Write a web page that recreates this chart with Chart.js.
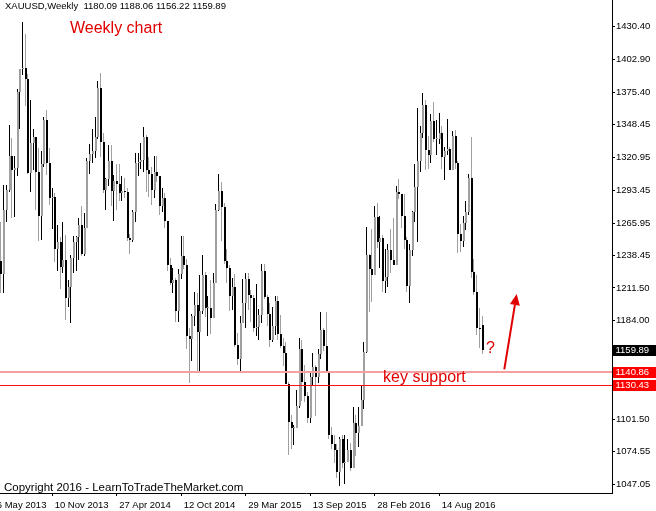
<!DOCTYPE html>
<html><head><meta charset="utf-8">
<script src="https://cdn.jsdelivr.net/npm/chart.js@4.4.1/dist/chart.umd.min.js"></script>
<style>html,body{margin:0;padding:0;background:#fff;}#wrap{width:656px;height:511px;position:relative;}</style>
</head><body><div id="wrap"><canvas id="c" width="656" height="511"></canvas></div>
<script>
// ---- data (weekly XAUUSD, weeks starting 2013-06-16) ----
const firstWeek = '2013-06-16';
const open = [1382,1297,1234,1223,1277,1294,1322,1310,1312,1376,
1395,1396,1387,1308,1333,1338,1309,1272,1315,1352,
1316,1287,1288,1244,1250,1229,1235,1203,1212,1237,
1250,1254,1264,1240,1262,1318,1324,1326,1338,1379,
1334,1294,1303,1318,1293,1301,1299,1291,1293,1292,
1253,1252,1275,1316,1317,1319,1338,1310,1307,1294,
1309,1305,1280,1287,1268,1231,1216,1218,1192,1223,
1238,1231,1171,1169,1188,1197,1175,1192,1222,1195,
1195,1186,1216,1277,1293,1279,1234,1228,1205,1212,
1164,1152,1182,1199,1219,1206,1203,1178,1179,1189,
1226,1204,1190,1168,1180,1201,1173,1163,1157,1131,
1099,1094,1094,1113,1160,1133,1121,1103,1137,1145,
1137,1156,1176,1163,1141,1088,1081,1076,1057,1085,
1065,1066,1076,1061,1098,1090,1096,1118,1158,1239,
1227,1222,1271,1250,1253,1217,1221,1243,1235,1231,
1292,1290,1272,1252,1213,1243,1275,1296,1318,1341,
1365,1327,1323,1351,1336,1336,1341,1321,1326,1328,
1310,1339,1316,1257,1251,1266,1275,1304,1225,1208,
1178,1180.09];
const high = [1393,1306,1267,1298,1298,1348,1337,1322,1378,1395,
1434,1424,1391,1369,1345,1338,1329,1326,1355,1361,
1329,1295,1291,1264,1254,1267,1256,1218,1239,1255,
1255,1270,1280,1274,1320,1332,1345,1355,1385,1392,
1341,1304,1331,1331,1306,1315,1315,1305,1304,1295,
1257,1277,1325,1325,1333,1346,1340,1321,1313,1322,
1322,1305,1295,1291,1268,1237,1228,1220,1227,1255,
1255,1236,1178,1190,1208,1207,1222,1239,1225,1205,
1218,1224,1282,1307,1300,1283,1244,1231,1220,1223,
1174,1188,1219,1224,1224,1210,1206,1215,1194,1232,
1232,1206,1199,1196,1205,1205,1189,1170,1166,1133,
1105,1097,1126,1170,1168,1147,1124,1142,1157,1147,
1160,1191,1178,1191,1142,1095,1088,1081,1087,1088,
1088,1085,1082,1112,1105,1112,1129,1166,1263,1240,
1261,1280,1283,1272,1256,1244,1248,1261,1270,1297,
1303,1290,1290,1254,1248,1276,1315,1362,1347,1375,
1369,1339,1357,1367,1352,1358,1347,1330,1353,1330,
1343,1344,1318,1265,1272,1284,1307,1338,1236,1222,
1195,1188.06];
const low = [1269,1180,1207,1207,1267,1292,1270,1271,1305,1345,
1390,1364,1307,1292,1310,1277,1251,1252,1313,1306,
1281,1261,1233,1226,1211,1224,1185,1196,1182,1224,
1226,1235,1238,1238,1262,1307,1316,1320,1336,1321,
1291,1277,1297,1280,1268,1277,1284,1284,1287,1251,
1240,1250,1267,1305,1311,1309,1292,1288,1281,1287,
1300,1273,1275,1262,1226,1214,1207,1183,1183,1219,
1227,1160,1132,1150,1180,1142,1142,1190,1187,1171,
1173,1186,1216,1276,1251,1232,1216,1192,1193,1162,
1147,1142,1182,1178,1193,1183,1175,1171,1168,1182,
1202,1180,1162,1166,1172,1168,1161,1146,1131,1072,
1077,1080,1094,1111,1117,1116,1098,1098,1130,1104,
1132,1152,1159,1140,1085,1077,1065,1052,1046,1061,
1047,1066,1058,1061,1071,1078,1096,1110,1157,1191,
1200,1222,1245,1228,1208,1207,1212,1224,1231,1231,
1286,1262,1244,1208,1199,1238,1267,1250,1309,1337,
1310,1311,1316,1334,1323,1332,1311,1302,1323,1310,
1310,1311,1241,1242,1246,1260,1273,1220,1206,1172,
1161,1156.22];
const close = [1297,1234,1223,1277,1294,1322,1310,1312,1376,1395,
1396,1387,1308,1333,1338,1309,1272,1315,1352,1316,
1287,1288,1244,1250,1229,1235,1203,1212,1237,1250,
1254,1264,1240,1262,1318,1324,1326,1338,1379,1334,
1294,1303,1318,1293,1301,1299,1291,1293,1292,1253,
1252,1275,1316,1317,1319,1338,1310,1307,1294,1309,
1305,1280,1287,1268,1231,1216,1218,1192,1223,1238,
1231,1171,1169,1188,1197,1175,1192,1222,1195,1195,
1186,1216,1277,1293,1279,1234,1228,1205,1212,1164,
1152,1182,1199,1219,1206,1203,1178,1179,1189,1226,
1204,1190,1168,1180,1201,1173,1163,1157,1131,1099,
1094,1094,1113,1160,1133,1121,1103,1137,1145,1137,
1156,1176,1163,1141,1088,1081,1076,1057,1085,1065,
1066,1076,1061,1098,1090,1096,1118,1158,1239,1227,
1222,1271,1250,1253,1217,1221,1243,1235,1231,1292,
1290,1272,1252,1213,1243,1275,1296,1318,1341,1365,
1327,1323,1351,1336,1336,1341,1321,1326,1328,1310,
1339,1316,1257,1251,1266,1275,1304,1225,1208,1178,
1177,1159.89];
const yTickValues = [1430.40,1402.90,1375.40,1348.45,1320.95,1293.45,1265.95,1238.45,1211.50,1184.00,1156.50,1129.00,1101.50,1074.55,1047.05];
const xTickLabels = ['26 May 2013','10 Nov 2013','27 Apr 2014','12 Oct 2014','29 Mar 2015','13 Sep 2015','28 Feb 2016','14 Aug 2016'];
const xTickDates  = ['2013-05-26','2013-11-10','2014-04-27','2014-10-12','2015-03-29','2015-09-13','2016-02-28','2016-08-14'];
const levelLines = [1140.86, 1130.43];
const symbolTitle = 'XAUUSD,Weekly';

// ---- helpers ----
const WEEK = 7*86400000;
const weekIndex = d => Math.round((Date.parse(d) - Date.parse(firstWeek)) / WEEK);
const weeks = open.map((_, i) => new Date(Date.parse(firstWeek) + i*WEEK).toISOString().slice(0,10));
const tickIdx = xTickDates.map(weekIndex);
const lastI = open.length - 1;
const GRAY = '#a0a0a0', BLACK = '#000000', RED = '#e00000';
const isUp = open.map((o, i) => close[i] >= o);
const bodyCols = isUp.map(u => u ? GRAY : BLACK);
const wickCols = isUp.map(u => u ? BLACK : GRAY);

const wickData = weeks.map((w, i) => ({x: i, y: [low[i], high[i]]}));
const bodyData = weeks.map((w, i) => ({x: i, y: [open[i], close[i]]}));

// view window (week units)
const pxPerWeek = 2.6875;
const xMin = 1.65, xMax = xMin + 612 / pxPerWeek;

const FONT = '"Liberation Sans", Arial, sans-serif';

// snap bar elements to whole pixels (crisp MT4-like candles)
const snap = {
  id: 'snap',
  afterDatasetsUpdate(chart) {
    chart.data.datasets.forEach((ds, di) => {
      const meta = chart.getDatasetMeta(di);
      meta.data.forEach(el => {
        const fx = Math.floor(el.x);
        el.x = di === 0 ? fx + 0.5 : fx + 1;
        const y0 = Math.round(el.y), b0 = Math.round(el.base);
        el.y = y0; el.base = (b0 === y0) ? y0 + 1 : b0;
      });
    });
  }
};

const overlay = {
  id: 'overlay',
  afterDatasetsDraw(chart) {
    const {ctx, chartArea: a, scales: {y}} = chart;
    ctx.save();
    const p1 = Math.round(y.getPixelForValue(levelLines[0]));
    ctx.fillStyle = '#f5a0a0';
    ctx.fillRect(a.left, p1 - 1, a.right - a.left, 2);
    const p2 = Math.round(y.getPixelForValue(levelLines[1]));
    ctx.fillStyle = '#ff1010';
    ctx.fillRect(a.left, p2, a.right - a.left, 1);
    ctx.restore();
  },
  afterDraw(chart) {
    const {ctx, chartArea: a, scales: {x, y}} = chart;
    ctx.save();
    // out-of-range first date label
    ctx.font = '9.5px ' + FONT;
    ctx.fillStyle = '#000';
    ctx.textBaseline = 'middle';
    ctx.textAlign = 'left';
    ctx.fillText(xTickLabels[0], x.getPixelForValue(tickIdx[0]) + 4, 505);
    // price boxes
    const box = (v, bg) => {
      const py = Math.round(y.getPixelForValue(v));
      ctx.fillStyle = bg;
      ctx.fillRect(a.right + 1, py - 5, 43, 11);
      ctx.fillStyle = '#fff';
      ctx.font = '9.5px ' + FONT;
      ctx.textBaseline = 'middle';
      ctx.fillText(v.toFixed(2), a.right + 3.5, py + 0.5);
    };
    box(levelLines[0], '#ff0000');
    box(levelLines[1], '#ff0000');
    box(close[lastI], '#000000');
    // header
    ctx.fillStyle = '#000';
    ctx.font = '9.5px ' + FONT;
    ctx.textBaseline = 'middle';
    ctx.fillText(symbolTitle + '  ' + [open[lastI], high[lastI], low[lastI], close[lastI]].map(v => v.toFixed(2)).join(' '), 5, 6.5);
    // copyright
    ctx.font = '11.5px ' + FONT;
    ctx.textBaseline = 'alphabetic';
    ctx.fillText('Copyright 2016 - LearnToTradeTheMarket.com', 4, 490.5);
    // annotations
    ctx.fillStyle = RED;
    ctx.font = '16px ' + FONT;
    ctx.fillText('Weekly chart', 70, 33.3);
    ctx.fillText('key support', x.getPixelForValue(144.2), y.getPixelForValue(1133.0));
    ctx.fillText('?', x.getPixelForValue(182.5), y.getPixelForValue(1157.3));
    // arrow
    const x0 = x.getPixelForValue(189.3), y0 = y.getPixelForValue(1143.4);
    const x1 = x.getPixelForValue(193.9), y1 = y.getPixelForValue(1206.5);
    const ang = Math.atan2(y1 - y0, x1 - x0);
    const hl = 11, hw = 5;
    const bx = x1 - hl * Math.cos(ang), by = y1 - hl * Math.sin(ang);
    ctx.strokeStyle = RED; ctx.lineWidth = 2;
    ctx.beginPath(); ctx.moveTo(x0, y0); ctx.lineTo(bx, by); ctx.stroke();
    ctx.beginPath();
    ctx.moveTo(x1, y1);
    ctx.lineTo(bx + hw * Math.sin(ang), by - hw * Math.cos(ang));
    ctx.lineTo(bx - hw * Math.sin(ang), by + hw * Math.cos(ang));
    ctx.closePath(); ctx.fill();
    ctx.restore();
  }
};

new Chart(document.getElementById('c'), {
  type: 'bar',
  data: {
    datasets: [
      {label: 'wick', data: wickData, backgroundColor: wickCols, barThickness: 1, grouped: false, inflateAmount: 0, borderWidth: 0, order: 2},
      {label: 'body', data: bodyData, backgroundColor: bodyCols, barThickness: 2, grouped: false, inflateAmount: 0, borderWidth: 0, minBarLength: 1, order: 1}
    ]
  },
  options: {
    responsive: false, animation: false, devicePixelRatio: 1,
    layout: {padding: 0},
    plugins: {legend: {display: false}, tooltip: {enabled: false}, title: {display: false}},
    scales: {
      x: {
        type: 'linear', offset: false, min: xMin, max: xMax,
        grid: {display: true, drawOnChartArea: false, drawTicks: true, tickLength: 3, color: '#000', offset: false},
        border: {display: true, color: '#000', width: 1},
        afterBuildTicks: s => { s.ticks = tickIdx.slice(1).map(v => ({value: v})); },
        afterFit: s => { s.height = 18; s.paddingLeft = 0; s.paddingRight = 0; },
        ticks: {
          autoSkip: false, maxRotation: 0, minRotation: 0, align: 'start', padding: 4,
          color: '#000', font: {family: FONT, size: 9.5},
          callback: v => ' ' + xTickLabels[tickIdx.indexOf(v)]
        }
      },
      y: {
        type: 'linear', position: 'right', min: 1039.76, max: 1452.77,
        grid: {display: true, drawOnChartArea: false, drawTicks: true, tickLength: 3, color: '#000'},
        border: {display: true, color: '#000', width: 1},
        afterBuildTicks: s => { s.ticks = yTickValues.map(v => ({value: v})); },
        afterFit: s => { s.width = 44; s.paddingTop = 0; s.paddingBottom = 0; },
        ticks: {padding: 1, color: '#000', font: {family: FONT, size: 9.5}, callback: v => v.toFixed(2)}
      }
    }
  },
  plugins: [snap, overlay]
});
</script></body></html>
